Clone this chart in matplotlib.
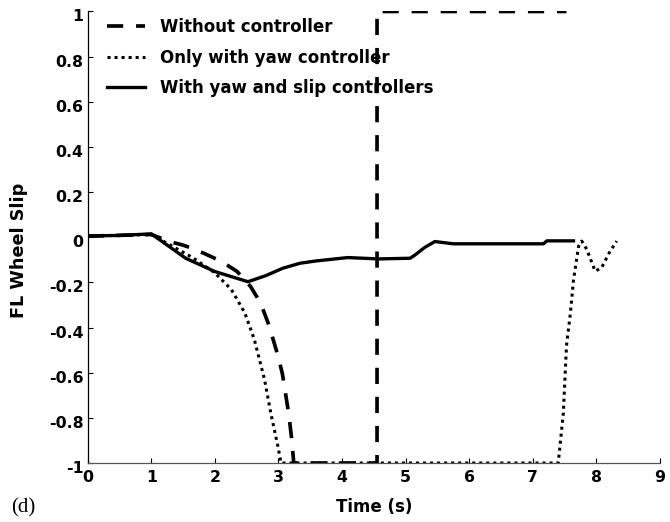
import numpy as np
import matplotlib.pyplot as plt
import matplotlib.transforms as mtransforms

plt.rcParams['font.family'] = ['DejaVu Sans']

# without controller (dashed)
t_wo = [0, 1.0, 1.3, 1.5, 1.71, 2.11, 2.35, 2.56, 2.72, 2.85, 2.98, 3.06, 3.16, 3.21, 3.24,
        4.55, 4.55, 7.53]
s_wo = [0.005, 0.012, -0.02, -0.035, -0.056, -0.108, -0.152, -0.218, -0.292, -0.39, -0.514,
        -0.603, -0.78, -0.90, -1.0, -1.0, 1.0, 1.0]

# only with yaw controller (dotted)
t_yaw = [0, 1.0, 1.3, 1.66, 2.0, 2.26, 2.47, 2.62, 2.78, 2.88, 2.99, 3.04, 7.40,
         7.48, 7.53, 7.59, 7.64, 7.72, 7.77, 7.85, 7.98, 8.08, 8.20, 8.32]
s_yaw = [0.005, 0.012, -0.035, -0.092, -0.158, -0.232, -0.335, -0.453, -0.63, -0.78, -0.925,
         -1.0, -1.0, -0.78, -0.48, -0.34, -0.19, -0.04, -0.017, -0.054, -0.15, -0.136,
         -0.07, -0.017]

# with yaw and slip controllers (solid)
t_ys = [0, 0.5, 1.0, 1.54, 2.0, 2.52, 2.8, 3.07, 3.34, 3.59, 4.09, 4.57, 5.07, 5.15, 5.3,
        5.46, 5.75, 7.17, 7.22, 7.64]
s_ys = [0.006, 0.008, 0.015, -0.093, -0.152, -0.197, -0.17, -0.137, -0.115, -0.105, -0.09,
        -0.096, -0.093, -0.078, -0.045, -0.019, -0.029, -0.029, -0.016, -0.016]

ytick_labels = ['-1', '-0.8', '-0.6', '-0.4', '-0.2', '0', '0.2', '0.4', '0.6', '0.8', '1']

fig = plt.figure(figsize=(6.7, 5.22), dpi=100)
ax = fig.add_axes([0.131, 0.113, 0.854, 0.865])

ax.plot(t_wo, s_wo, color='black', linewidth=2.65, linestyle=(0, (4.4, 3.5)),
        label='Without controller')
ax.plot(t_yaw, s_yaw, color='black', linewidth=2.2, linestyle=(0, (1, 1.3)),
        label='Only with yaw controller')
ax.plot(t_ys, s_ys, color='black', linewidth=2.4, label='With yaw and slip controllers')

ax.set_xlim(0, 9)
ax.set_ylim(-1, 1)
ax.set_xticks(np.arange(0, 10, 1))
ax.set_yticks(np.linspace(-1, 1, 11))
ax.set_yticklabels(ytick_labels)
ax.spines['top'].set_visible(False)
ax.spines['right'].set_visible(False)
ax.spines['left'].set_linewidth(0.9)
ax.spines['bottom'].set_linewidth(0.9)
ax.spines['bottom'].set_color('#555555')
ax.tick_params(direction='in', length=3.5, width=0.8, labelsize=11.3)
ax.tick_params(axis='x', pad=5)
ax.tick_params(axis='y', pad=3)
shift = mtransforms.ScaledTranslation(0, -4 / 100, fig.dpi_scale_trans)
for lab in ax.get_yticklabels():
    lab.set_fontweight('bold')
    lab.set_transform(lab.get_transform() + shift)
for lab in ax.get_xticklabels():
    lab.set_fontweight('bold')

ax.set_xlabel('Time (s)', fontsize=12, fontweight='bold')
ax.xaxis.set_label_coords(0.5, -0.078)
ax.set_ylabel('FL Wheel Slip', fontsize=12.7, fontweight='bold')
ax.yaxis.set_label_coords(-0.105, 0.472)

leg = ax.legend(loc='upper left', frameon=False, fontsize=12, handlelength=2.3,
                handletextpad=0.9, borderaxespad=0, bbox_to_anchor=(0.0215, 1.0),
                labelspacing=0.75)
for txt in leg.get_texts():
    txt.set_fontweight('bold')

fig.text(0.017, 0.019, '(d)', fontsize=15, family='Liberation Serif')

plt.savefig('out.png', dpi=100)
